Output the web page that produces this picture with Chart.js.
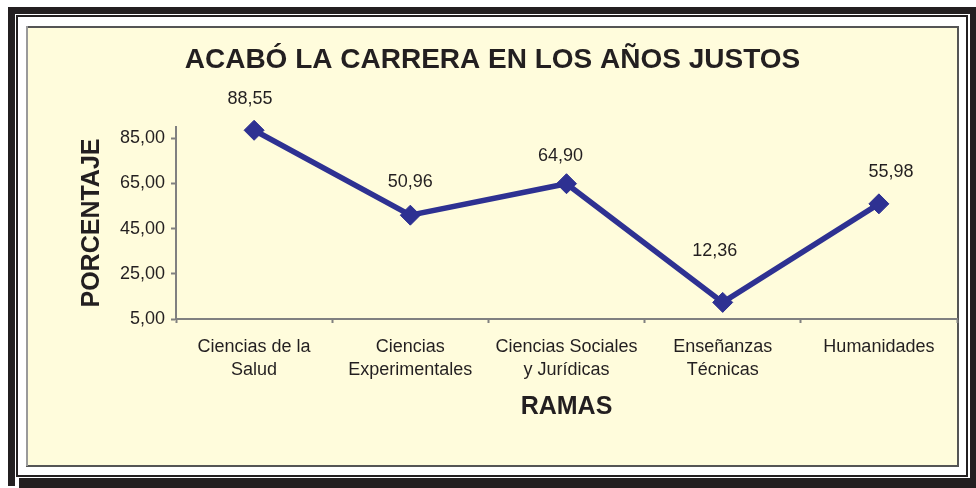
<!DOCTYPE html>
<html>
<head>
<meta charset="utf-8">
<script src="https://cdn.jsdelivr.net/npm/chart.js@4/dist/chart.umd.min.js"></script>
<style>
  html, body { margin: 0; padding: 0; background: #ffffff; }
  #wrap { width: 976px; height: 488px; }
</style>
</head>
<body>
<div id="wrap"><canvas id="c" width="976" height="488"></canvas></div>
<script>
// ---- data ----
const categories = [
  ['Ciencias de la', 'Salud'],
  ['Ciencias', 'Experimentales'],
  ['Ciencias Sociales', 'y Jurídicas'],
  ['Enseñanzas', 'Técnicas'],
  ['Humanidades']
];
const values = [88.55, 50.96, 64.90, 12.36, 55.98];
const yTicks = [5, 25, 45, 65, 85];
const yMin = 5;
const yMax = 90;
const titleText = 'ACABÓ LA CARRERA EN LOS AÑOS JUSTOS';
const yTitle = 'PORCENTAJE';
const xTitle = 'RAMAS';

// ---- style ----
const FONT = "'Liberation Sans', Arial, Helvetica, sans-serif";
const INK = '#231F20';
const AXIS = '#808080';
const LINE = '#2E3192';
const PANEL = '#FFFCDC';
// label nudges (Excel-like label placement), dx / lift in px
const labelDx = [-4, 0, -6, -8, 12];
const labelLift = [31, 33, 28, 51, 32];

const fmt = v => Number(v).toFixed(2).replace('.', ',');

const framePlugin = {
  id: 'frame',
  beforeDraw(chart) {
    const ctx = chart.ctx;
    ctx.save();
    ctx.fillStyle = '#ffffff';
    ctx.fillRect(0, 0, 976, 488);
    ctx.fillStyle = INK;
    // thick black frame
    ctx.fillRect(8, 7, 968, 7);      // top
    ctx.fillRect(8, 7, 7, 479);      // left
    ctx.fillRect(970, 7, 6, 481);    // right
    ctx.fillRect(19, 478, 957, 10);  // bottom
    // thin line
    ctx.strokeStyle = INK;
    ctx.lineWidth = 2;
    ctx.strokeRect(17, 16, 950, 460);
    // panel
    ctx.fillStyle = PANEL;
    ctx.fillRect(28, 28, 929, 437);
    ctx.fillStyle = '#555555';
    ctx.fillRect(26, 26, 933, 2);
    ctx.fillRect(957, 26, 2, 441);
    ctx.fillRect(26, 465, 933, 2);
    ctx.fillStyle = '#9a9a9a';
    ctx.fillRect(26, 26, 2, 440);
    ctx.restore();
  }
};

const labelPlugin = {
  id: 'valueLabels',
  afterDatasetsDraw(chart) {
    const ctx = chart.ctx;
    const meta = chart.getDatasetMeta(0);
    ctx.save();
    ctx.font = '18px ' + FONT;
    ctx.fillStyle = INK;
    ctx.textAlign = 'center';
    ctx.textBaseline = 'middle';
    meta.data.forEach((pt, i) => {
      ctx.fillText(fmt(values[i]), pt.x + labelDx[i], pt.y - labelLift[i]);
    });
    ctx.restore();
  }
};

new Chart(document.getElementById('c'), {
  type: 'line',
  data: {
    labels: categories,
    datasets: [{
      data: values,
      borderColor: LINE,
      backgroundColor: LINE,
      borderWidth: 5.5,
      tension: 0,
      fill: false,
      pointStyle: 'rectRot',
      pointRadius: 10,
      pointHoverRadius: 10,
      pointBackgroundColor: LINE,
      pointBorderColor: LINE,
      pointBorderWidth: 1,
      clip: false
    }]
  },
  options: {
    responsive: false,
    animation: false,
    devicePixelRatio: 1,
    layout: { padding: { left: 28, right: 19, top: 0, bottom: 0 } },
    plugins: {
      legend: { display: false },
      tooltip: { enabled: false },
      title: {
        display: true,
        text: titleText,
        color: INK,
        font: { family: FONT, size: 28, weight: 'bold', lineHeight: 1.2 },
        padding: { top: 43.2, bottom: 50.2 }
      }
    },
    scales: {
      x: {
        type: 'category',
        offset: true,
        grid: {
          display: true, drawOnChartArea: false, drawTicks: true,
          tickLength: 4, offset: true, tickColor: AXIS, tickWidth: 2
        },
        border: { display: true, color: AXIS, width: 2 },
        ticks: {
          color: INK, padding: 12, maxRotation: 0, minRotation: 0, autoSkip: false,
          font: { family: FONT, size: 18, lineHeight: 1.3 }
        },
        title: {
          display: true, text: xTitle, color: INK,
          font: { family: FONT, size: 25, weight: 'bold', lineHeight: 1.2 },
          padding: { top: 0, bottom: 65.5 }
        },
        afterFit(s) { s.height = 169; }
      },
      y: {
        type: 'linear',
        min: yMin,
        max: yMax,
        afterBuildTicks(s) { s.ticks = yTicks.map(v => ({ value: v })); },
        grid: {
          display: true, drawOnChartArea: false, drawTicks: true,
          tickLength: 5, tickColor: AXIS, tickWidth: 2
        },
        border: { display: true, color: AXIS, width: 2 },
        ticks: {
          color: INK, padding: 6,
          font: { family: FONT, size: 18 },
          callback: v => fmt(v)
        },
        title: {
          display: true, text: yTitle, color: INK,
          font: { family: FONT, size: 25, weight: 'bold', lineHeight: 1.2 },
          padding: { top: 49, bottom: 0 }
        },
        afterFit(s) { s.width = 148; }
      }
    }
  },
  plugins: [framePlugin, labelPlugin]
});
</script>
</body>
</html>
